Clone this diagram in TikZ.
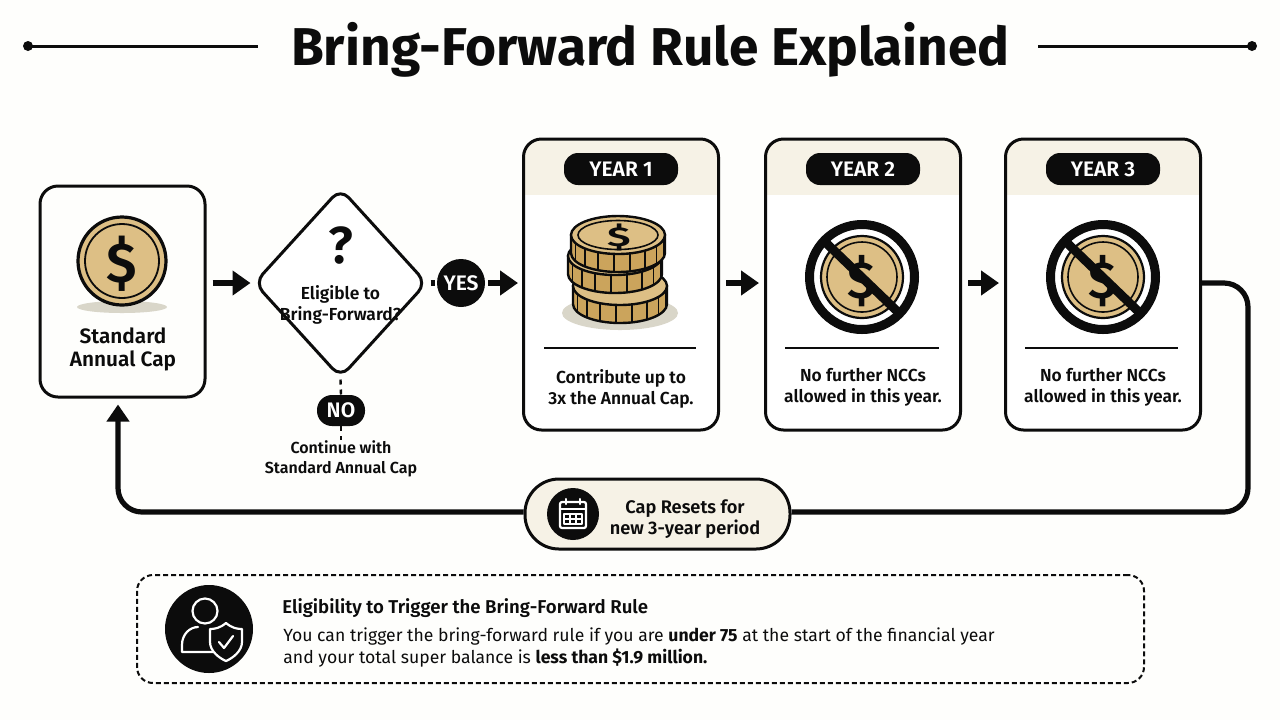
\documentclass[tikz,border=0pt]{standalone}
\usepackage{fontspec}
\setmainfont{Fira Sans}[BoldFont=Fira Sans SemiBold]
\newfontfamily\headfont{Fira Sans}
\usepackage{tikz}
\usetikzlibrary{arrows.meta}
\usetikzlibrary{shapes.geometric}
\definecolor{ink}{RGB}{12,12,12}
\definecolor{paper}{RGB}{254,254,252}
\definecolor{lcream}{RGB}{246,242,230}
\definecolor{lgold}{RGB}{221,191,133}
\definecolor{dgold}{RGB}{203,164,92}
\definecolor{lshade}{RGB}{217,214,201}
\newcommand{\stackcoin}[2]{
  \draw[coinedge,fill=dgold] (#1-47,#2) -- (#1-47,#2+18) arc[start angle=180,end angle=0,x radius=47,y radius=19] -- (#1+47,#2) -- cycle;
  \foreach \a in {15,35,...,165}
    \draw[coinedge,line width=.8pt] ({#1+47*cos(\a)},{#2+19*sin(\a)}) -- ++(0,18);
  \draw[coinedge,fill=lgold] (#1,#2) ellipse [x radius=47,y radius=19];
}
\begin{document}
\begin{tikzpicture}[x=.5pt,y=-.5pt,->,>={Triangle[length=9pt,width=12pt]},node distance=121pt,text=ink]
      \tikzstyle{cardbox}=[draw=ink,line width=1.5pt,rounded corners=9pt,inner sep=0pt]
      \tikzstyle{yearbox}=[cardbox,fill=white,minimum width=97.5pt,minimum height=145.5pt,
        path picture={\fill[lcream,sharp corners] (path picture bounding box.north west) rectangle ([yshift=-28pt]path picture bounding box.north east);}]
      \tikzstyle{yeartag}=[fill=ink,text=white,rounded corners=7pt,minimum width=57pt,minimum height=16pt,inner sep=0pt,font=\fontsize{10.5}{12}\selectfont\bfseries]
      \tikzstyle{blob}=[fill=ink,text=white,inner sep=0pt,font=\fontsize{10.5}{12}\selectfont\bfseries]
      \tikzstyle{label}=[inner sep=0pt,align=center,font=\fontsize{8.7}{10.4}\selectfont\bfseries]
      \tikzstyle{flow}=[draw=ink,line width=3pt]
      \tikzstyle{loopline}=[draw=ink,line width=2.6pt,rounded corners=12pt]
      \tikzstyle{dashline}=[-,draw=ink,line width=1.2pt,dash pattern=on 2.5pt off 2.5pt]
      \tikzstyle{coinedge}=[-,draw=ink,line width=1.2pt]
      \tikzstyle{iconline}=[-,draw=white,line width=1.1pt,line cap=round,line join=round]

      \fill[paper] (0,0) rectangle (1280,720);
      \useasboundingbox (0,0) rectangle (1280,720);

      \node[inner sep=0pt,font=\fontsize{26.6}{30}\headfont\bfseries] (T) at (650.5,50) {Bring-Forward Rule Explained};
      \coordinate (TL) at (28,46);
      \coordinate (TR) at (1252,46);
      \draw[-,draw=ink,line width=1.5pt] (TL) -- (258,46);
      \draw[-,draw=ink,line width=1.5pt] (1038,46) -- (TR);
      \fill[ink] (TL) circle (5) (TR) circle (5);

      \node[cardbox,fill=paper,minimum width=82.5pt,minimum height=105.5pt] (A) at (122.5,291.5) {};
      \node[diamond,draw=ink,line width=1.5pt,fill=white,rounded corners=6pt,minimum width=86.5pt,minimum height=95pt,inner sep=0pt] (D) at (340.5,283) {};
      \node[blob,circle,minimum size=24pt] (YES) at (461,283) {YES};
      \node[yearbox] (Y1) at (621,284.5) {};
      \node[yearbox,right of = Y1] (Y2) {};
      \node[yearbox,right of = Y2,node distance=120pt] (Y3) {};
      \node[blob,rounded corners=7.5pt,minimum width=24pt,minimum height=15.5pt] (NO) at (341,410.5) {NO};
      \node[label,font=\fontsize{8}{10}\selectfont\bfseries] (CT) at (341,459) {Continue with\\Standard Annual Cap};
      \node[draw=ink,line width=1.5pt,fill=lcream,rounded corners=17pt,minimum width=132.5pt,minimum height=35pt] (R) at (657.5,514) {};
      \node[draw=ink,line width=1pt,dash pattern=on 2.5pt off 1.5pt,rounded corners=8pt,minimum width=503.5pt,minimum height=54pt] (B) at (640.5,629) {};

      \node[yeartag] (H1) at (621,169) {YEAR 1};
      \node[yeartag] (H2) at (863,169) {YEAR 2};
      \node[yeartag] (H3) at (1103,169) {YEAR 3};

      \node[label,font=\fontsize{10.4}{11.5}\selectfont\bfseries] (AT) at (123,349.5) {Standard\\Annual Cap};
      \node[inner sep=0pt,font=\fontsize{26}{28}\selectfont\bfseries] (DQ) at (340.5,245) {?};
      \node[label] (DT) at (340.5,305) {Eligible to\\Bring-Forward?};
      \node[label] (L1) at (621,389) {Contribute up to\\3x the Annual Cap.};
      \node[label] (L2) at (863,387.5) {No further NCCs\\allowed in this year.};
      \node[label] (L3) at (1103,387.5) {No further NCCs\\allowed in this year.};
      \node[label,font=\fontsize{9.1}{10.4}\selectfont\bfseries] (RT) at (685,519) {Cap Resets for\\new 3-year period};

      \draw[flow,shorten <=3pt,shorten >=1pt] (A.east |- D.west) -- (D.west);
      \draw[flow,-,shorten <=1pt,shorten >=1pt] (D.east) -- (YES.west);
      \draw[flow,shorten <=1.5pt,shorten >=2pt] (YES.east) -- (YES.east -| Y1.west);
      \draw[flow,shorten <=3pt,shorten >=2.5pt] (Y1.east |- YES.east) -- (YES.east -| Y2.west);
      \draw[flow,shorten <=3pt,shorten >=2.5pt] (Y2.east |- YES.east) -- (YES.east -| Y3.west);
      \draw[dashline] (D.south) -- (NO.north);
      \draw[dashline] (NO.south) -- (CT.north);

      \coordinate (C3) at (1248,512);
      \draw[loopline,-] (Y3.east |- YES.east) -| (C3) -- (R.east |- C3);
      \coordinate (C1) at (118,512);
      \draw[loopline,->,>={Triangle[length=8.5pt,width=11pt]},shorten >=3pt] (R.west |- C1) -| (C1 |- A.south);

      \draw[-,draw=ink,line width=1.2pt] (544,348) -- (696,348);
      \draw[-,draw=ink,line width=1.2pt] (785,348) -- (939,348);
      \draw[-,draw=ink,line width=1.2pt] (1025,348) -- (1178,348);

      \fill[lshade] (122,307) ellipse [x radius=45,y radius=6];
      \draw[coinedge,line width=1.6pt,fill=lgold] (122,261) circle (44);
      \draw[coinedge,line width=.9pt] (122,261) circle (37);
      \node[inner sep=0pt,font=\fontsize{28}{30}\selectfont\bfseries] (AS) at (122,264) {\$};

      \fill[lshade] (620,313) ellipse [x radius=58,y radius=17];
      \stackcoin{620}{286}
      \stackcoin{615}{256}
      \stackcoin{618}{235}
      \draw[coinedge,line width=.8pt] (618,235) ellipse [x radius=40,y radius=14.5];
      \node[inner sep=0pt,font=\fontsize{16}{18}\selectfont\bfseries,xscale=1.35,yscale=.85] (YS) at (619,237) {\$};

      \foreach \cx in {862,1103} {
        \draw[coinedge,line width=1.1pt,fill=lgold] (\cx,277) circle (41);
        \draw[coinedge,line width=.8pt] (\cx,277) circle (35);
        \node[inner sep=0pt,font=\fontsize{26}{28}\selectfont\bfseries] at (\cx,281) {\$};
        \draw[-,draw=ink,line width=4.5pt] (\cx,277) circle (52.5);
        \draw[-,draw=ink,line width=4.5pt] (\cx-39,240) -- (\cx+37,313);
      }

      \node[circle,fill=ink,minimum size=26pt,inner sep=0pt] (CB) at (573,514) {};
      \draw[iconline,rounded corners=1pt] (560,502) rectangle (586,528);
      \draw[iconline] (560,509) -- (586,509) (566,499) -- (566,504) (580,499) -- (580,504);
      \draw[iconline,line width=.8pt] (564,514) rectangle (582,524) (570,514) -- (570,524) (576,514) -- (576,524) (564,519) -- (582,519);

      \node[circle,fill=ink,minimum size=44pt,inner sep=0pt] (PB) at (209,629) {};
      \draw[iconline] (205,611) ellipse [x radius=12.5,y radius=12.5];
      \draw[iconline] (214,652) -- (182,652) -- (182,645) .. controls (182,634) and (190,627) .. (198,627);
      \draw[iconline,fill=ink] (226,623) .. controls (232,628) and (237,629) .. (242,629) -- (242,642) .. controls (242,651) and (233,658) .. (226,661) .. controls (219,658) and (210,651) .. (210,642) -- (210,629) .. controls (215,629) and (220,628) .. (226,623) -- cycle;
      \draw[iconline] (219,642) -- (224,648) -- (233,636);

      \node[inner sep=0pt,anchor=west,font=\fontsize{9.3}{10}\selectfont\bfseries] (BT) at (282,608) {Eligibility to Trigger the Bring-Forward Rule};
      \node[inner sep=0pt,anchor=west,align=left,font=\fontsize{8.8}{11}\selectfont] (BX) at (283,647) {You can trigger the bring-forward rule if you are {\headfont\bfseries under 75} at the start of the financial year\\and your total super balance is {\headfont\bfseries less than \$1.9 million.}};
\end{tikzpicture}
\end{document}
